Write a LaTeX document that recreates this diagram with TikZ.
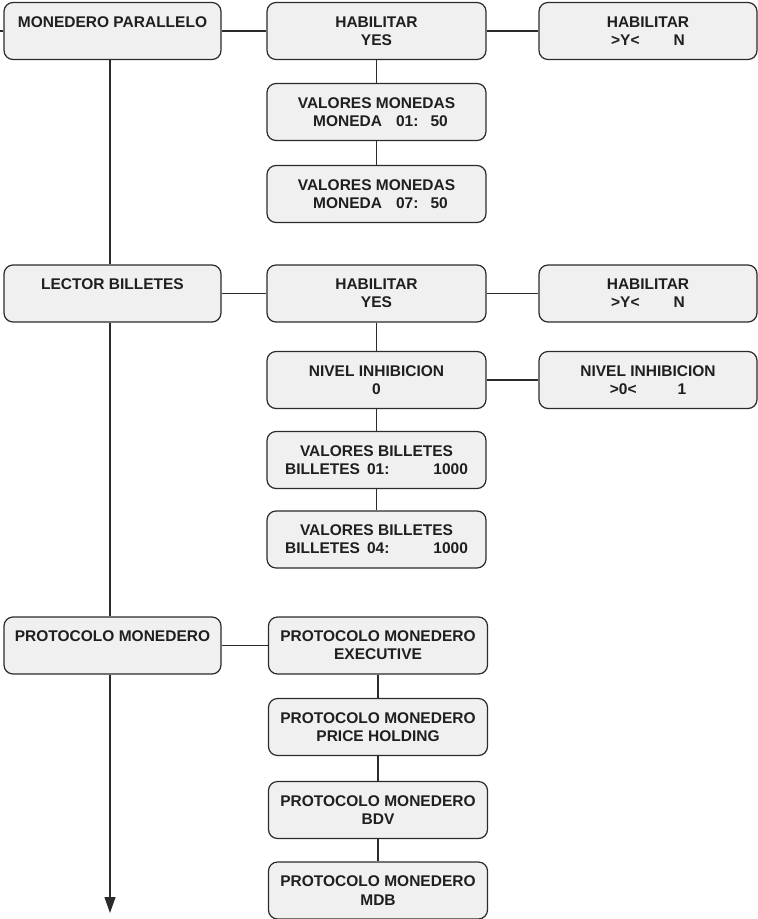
\documentclass[tikz,border=0pt]{standalone}
\usepackage{fontspec}
\setmainfont{Liberation Sans}
\usetikzlibrary{arrows.meta}
\definecolor{boxfill}{HTML}{F0F0F0}
\definecolor{edge}{HTML}{2B2B2B}
\definecolor{ink}{HTML}{1F1F1F}
\begin{document}
\begin{tikzpicture}[x=1pt,y=-1pt,
  menu/.style={draw=edge, fill=boxfill, rounded corners=9pt, line width=1.2pt,
    minimum height=57pt, inner sep=0pt, text=ink, align=center,
    font=\fontsize{15.5}{18.3}\selectfont\bfseries},
  mainbox/.style={menu, minimum width=217pt},
  subbox/.style={menu, minimum width=219pt},
  optbox/.style={menu, minimum width=218pt},
  link/.style={draw=edge, line width=1.2pt},
  trunk/.style={link, xshift=-2.5pt}]
\useasboundingbox (0,0) rectangle (758,919);

% main menu column
\node[mainbox] (mp) at (112.5,31) {MONEDERO PARALLELO\\\phantom{X}};
\node[mainbox] (lb) at (112.5,293.5) {LECTOR BILLETES\\\phantom{X}};
\node[mainbox] (pm) at (112.5,645.5) {PROTOCOLO MONEDERO\\\phantom{X}};
\coordinate (in) at (0,31);
\coordinate (down) at (110,913);

% coin acceptor branch
\node[subbox] (h1) at (376.5,31) {HABILITAR\\YES};
\node[optbox] (h1o) at (648,31) {HABILITAR\\>Y<\hspace{34pt}N};
\node[subbox] (vm1) at (376.5,112) {VALORES MONEDAS\\\hspace*{8pt}MONEDA\hspace{14pt}01:\hspace{12pt}50};
\node[subbox] (vm2) at (376.5,194) {VALORES MONEDAS\\\hspace*{8pt}MONEDA\hspace{14pt}07:\hspace{12pt}50};

% bill reader branch
\node[subbox] (h2) at (376.5,293.5) {HABILITAR\\YES};
\node[optbox] (h2o) at (648,293.5) {HABILITAR\\>Y<\hspace{34pt}N};
\node[subbox] (ni) at (376.5,380) {NIVEL INHIBICION\\0};
\node[optbox] (nio) at (648,380) {NIVEL INHIBICION\\>0<\hspace{41pt}1};
\node[subbox] (vb1) at (376.5,460) {VALORES BILLETES\\BILLETES\hspace{7pt}01:\hspace{44pt}1000};
\node[subbox] (vb2) at (376.5,539.5) {VALORES BILLETES\\BILLETES\hspace{7pt}04:\hspace{44pt}1000};

% coin protocol branch
\node[subbox] (p1) at (378,645.5) {PROTOCOLO MONEDERO\\EXECUTIVE};
\node[subbox] (p2) at (378,727) {PROTOCOLO MONEDERO\\PRICE HOLDING};
\node[subbox] (p3) at (378,810) {PROTOCOLO MONEDERO\\BDV};
\node[subbox] (p4) at (378,890.5) {PROTOCOLO MONEDERO\\MDB};

% connectors
\draw[link] (in) -- (mp.west);
\draw[link] ([xshift=-2.5pt]mp.south) -- ([xshift=-2.5pt]lb.north);
\draw[link] ([xshift=-2.5pt]lb.south) -- ([xshift=-2.5pt]pm.north);
\draw[link, -{Triangle[width=11pt,length=16pt]}] ([xshift=-2.5pt]pm.south) -- (down);

\draw[link] (mp) -- (h1);
\draw[link] (h1) -- (h1o);
\draw[link] (h1) -- (vm1);
\draw[link] (vm1) -- (vm2);

\draw[link] (lb) -- (h2);
\draw[link] (h2) -- (h2o);
\draw[link] (h2) -- (ni);
\draw[link] (ni) -- (nio);
\draw[link] (ni) -- (vb1);
\draw[link] (vb1) -- (vb2);

\draw[link] (pm) -- (p1);
\draw[link] (p1) -- (p2);
\draw[link] (p2) -- (p3);
\draw[link] (p3) -- (p4);
\end{tikzpicture}
\end{document}
